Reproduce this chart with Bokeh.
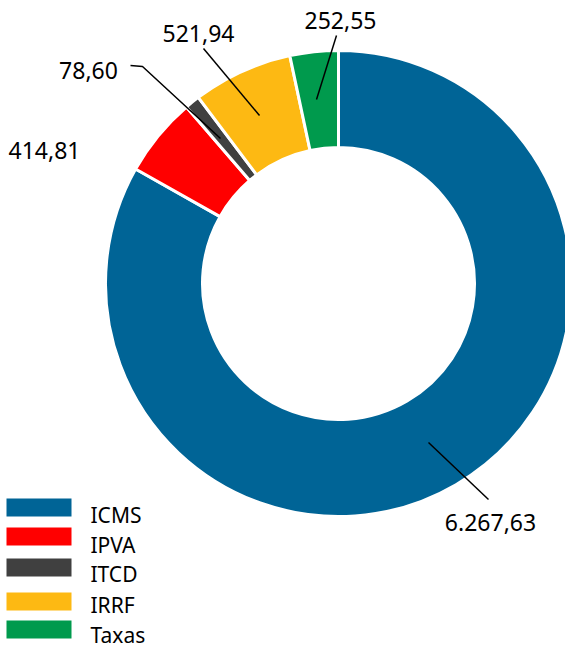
import math
from bokeh.plotting import figure
from bokeh.models import ColumnDataSource
from bokeh.core.properties import value
from bokeh.embed import file_html
from bokeh.resources import INLINE

categories = ["ICMS", "IPVA", "ITCD", "IRRF", "Taxas"]
values = [6267.63, 414.81, 78.60, 521.94, 252.55]
labels = ["6.267,63", "414,81", "78,60", "521,94", "252,55"]
colors = ["#006496", "#ff0000", "#404040", "#fdb913", "#009a4d"]

W, H = 565, 649
FONT = "Noto Sans"

def X(sx):
    return sx

def Y(sy):
    return H - sy

p = figure(width=W, height=H, x_range=(0, W), y_range=(0, H),
           output_backend="svg", toolbar_location=None, min_border=0)
p.axis.visible = False
p.grid.visible = False
p.outline_line_color = None
p.background_fill_color = "white"
p.border_fill_color = "white"

total = sum(values)
starts, ends = [], []
cum = 0.0
for v in values:
    starts.append(math.pi / 2 - cum / total * 2 * math.pi)
    cum += v
    ends.append(math.pi / 2 - cum / total * 2 * math.pi)

src = ColumnDataSource(dict(start=starts, end=ends, color=colors))
p.annular_wedge(x=X(338), y=Y(283), inner_radius=136, outer_radius=233,
                start_angle="start", end_angle="end", direction="clock",
                fill_color="color", line_color="white", line_width=3, source=src)

# leader lines
lines = [
    [(428, 442), (488, 499)],
    [(130, 65), (142, 66), (220, 138)],
    [(203, 48), (259, 115)],
    [(336, 35), (316, 99)],
]
for ln in lines:
    p.line([X(a) for a, b in ln], [Y(b) for a, b in ln], line_color="black", line_width=1.5)

label_pos = [(490, 522), (44, 150), (88, 70), (198, 33), (340, 20)]
p.text(x=[X(a) for a, b in label_pos], y=[Y(b) for a, b in label_pos], text=labels,
       text_align="center", text_baseline="middle", text_font=value(FONT),
       text_font_size="23px", text_color="black")

# legend
leg_y = [507, 536, 567, 601, 629]
txt_y = [514, 544, 573, 604, 634]
p.rect(x=[X(38.5)] * 5, y=[Y(v) for v in leg_y], width=65, height=18,
       fill_color=colors, line_color=None)
p.text(x=[X(90)] * 5, y=[Y(v) for v in txt_y], text=categories,
       text_align="left", text_baseline="middle", text_font=value(FONT),
       text_font_size="21px", text_color="black")

open("out.html", "w").write(file_html(p, INLINE))
